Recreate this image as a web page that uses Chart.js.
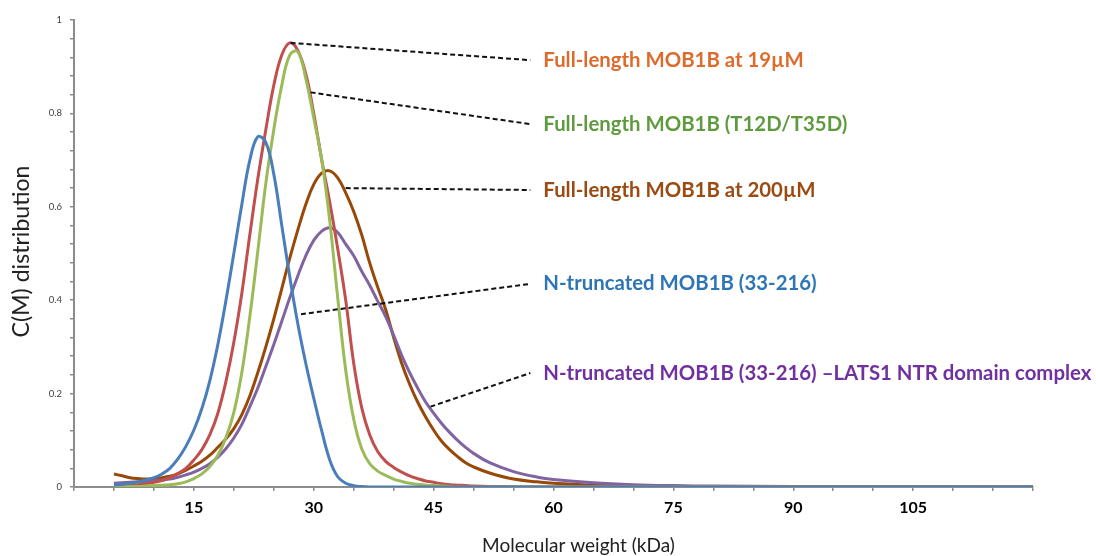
<!DOCTYPE html>
<html>
<head>
<meta charset="utf-8">
<script src="https://cdn.jsdelivr.net/npm/chart.js@4.4.1/dist/chart.umd.min.js"></script>
<style>
  html, body { margin: 0; padding: 0; background: #fff; }
</style>
</head>
<body>
<canvas id="cmChart" width="1096" height="556"></canvas>
<script>
// Molecular weight grid (kDa)
const kDa = [5, 6, 7, 8, 9, 10, 11, 12, 13, 14, 15, 16, 17, 18, 19, 20, 21, 22, 23, 24, 25, 26, 27, 28, 29, 30,
  31, 32, 33, 34, 35, 36, 37, 38, 39, 40, 41, 42, 43, 44, 45, 46, 47, 48, 49, 50, 52, 55, 58, 60, 65, 70, 75, 80, 90, 100, 110, 120];

// C(M) values
const fl19 = [0.002, 0.003, 0.004, 0.005, 0.007, 0.010, 0.014, 0.020, 0.029, 0.040, 0.058, 0.080, 0.112, 0.158, 0.225, 0.310, 0.415, 0.540, 0.660, 0.765, 0.860, 0.925, 0.951, 0.935, 0.885, 0.800,
  0.700, 0.610, 0.510, 0.400, 0.265, 0.170, 0.112, 0.076, 0.055, 0.042, 0.032, 0.024, 0.018, 0.013, 0.010, 0.007, 0.005, 0.004, 0.003, 0.002, 0.001, 0.0005, 0, 0, 0, 0, 0, 0, 0, 0, 0, 0];
const flT12D = [0, 0, 0.001, 0.001, 0.002, 0.003, 0.004, 0.005, 0.007, 0.011, 0.018, 0.028, 0.044, 0.068, 0.105, 0.160, 0.245, 0.365, 0.505, 0.650, 0.765, 0.860, 0.925, 0.932, 0.875, 0.790,
  0.700, 0.570, 0.405, 0.250, 0.145, 0.082, 0.050, 0.034, 0.025, 0.017, 0.012, 0.008, 0.006, 0.004, 0.003, 0.002, 0.001, 0, 0, 0, 0, 0, 0, 0, 0, 0, 0, 0, 0, 0, 0, 0];
const fl200 = [0.028, 0.024, 0.020, 0.018, 0.017, 0.018, 0.020, 0.023, 0.028, 0.036, 0.045, 0.055, 0.068, 0.085, 0.103, 0.125, 0.155, 0.195, 0.245, 0.300, 0.360, 0.425, 0.490, 0.550, 0.605, 0.648,
  0.672, 0.677, 0.662, 0.630, 0.590, 0.540, 0.480, 0.428, 0.380, 0.320, 0.265, 0.220, 0.182, 0.150, 0.122, 0.098, 0.080, 0.065, 0.052, 0.043, 0.030, 0.017, 0.011, 0.008, 0.004, 0.002, 0.0015, 0.001, 0.0005, 0.0003, 0.0002, 0.0001];
const ntrunc = [0.004, 0.006, 0.008, 0.011, 0.015, 0.020, 0.028, 0.040, 0.060, 0.087, 0.122, 0.168, 0.228, 0.305, 0.398, 0.500, 0.605, 0.700, 0.750, 0.738, 0.670, 0.560, 0.450, 0.350, 0.265, 0.190,
  0.120, 0.058, 0.022, 0.008, 0.003, 0.001, 0, 0, 0, 0, 0, 0, 0, 0, 0, 0, 0, 0, 0, 0, 0, 0, 0, 0, 0, 0, 0, 0, 0, 0, 0, 0];
const ntruncLats = [0.008, 0.009, 0.010, 0.011, 0.012, 0.013, 0.015, 0.017, 0.021, 0.026, 0.032, 0.040, 0.050, 0.064, 0.082, 0.105, 0.134, 0.172, 0.212, 0.258, 0.305, 0.355, 0.405, 0.452, 0.495, 0.528,
  0.548, 0.555, 0.545, 0.520, 0.495, 0.462, 0.432, 0.398, 0.365, 0.325, 0.282, 0.245, 0.212, 0.182, 0.158, 0.136, 0.117, 0.100, 0.085, 0.072, 0.052, 0.033, 0.021, 0.016, 0.009, 0.005, 0.003, 0.002, 0.001, 0.0005, 0.0003, 0.0002];

const seriesNames = [
  'Full-length MOB1B at 19\u00b5M',
  'Full-length MOB1B (T12D/T35D)',
  'Full-length MOB1B at 200\u00b5M',
  'N-truncated MOB1B (33-216)',
  'N-truncated MOB1B (33-216) \u2013LATS1 NTR domain complex'
];
const xTickLabels = [15, 30, 45, 60, 75, 90, 105];
const xTitle = 'Molecular weight (kDa)';
const yTitle = 'C(M) distribution';

const toPoints = vals => vals.map((v, i) => ({ x: kDa[i], y: v }));

// leader lines + labels, in data units (kDa, C(M))
const annotations = [
  { text: seriesNames[0], color: '#DD6B2C', from: [27.1, 0.951], to: [57.1, 0.914] },
  { text: seriesNames[1], color: '#5F9B3E', from: [29.6, 0.845], to: [57.1, 0.777] },
  { text: seriesNames[2], color: '#9B4A12', from: [34.0, 0.640], to: [57.1, 0.636] },
  { text: seriesNames[3], color: '#2E75B6', from: [28.4, 0.370], to: [57.1, 0.435] },
  { text: seriesNames[4], color: '#7030A0', from: [44.6, 0.172], to: [57.1, 0.244] }
];

// pick a font size so that a string comes out about as wide as in the original
function fitFont(ctx, text, weight, target) {
  ctx.font = weight + ' 20px Lato';
  const size = 20 * target / ctx.measureText(text).width;
  return weight + ' ' + size.toFixed(2) + 'px Lato';
}

const calloutPlugin = {
  id: 'callouts',
  afterDatasetsDraw(chart) {
    const ctx = chart.ctx;
    const xs = chart.scales.x, ys = chart.scales.y;
    ctx.save();
    ctx.font = fitFont(ctx, seriesNames[4], 'bold', 548);
    ctx.textBaseline = 'middle';
    ctx.textAlign = 'left';
    annotations.forEach(a => {
      const x1 = xs.getPixelForValue(a.from[0]), y1 = ys.getPixelForValue(a.from[1]);
      const x2 = xs.getPixelForValue(a.to[0]), y2 = ys.getPixelForValue(a.to[1]);
      ctx.beginPath();
      ctx.setLineDash([5, 3]);
      ctx.lineWidth = 2;
      ctx.strokeStyle = '#111';
      ctx.moveTo(x1, y1);
      ctx.lineTo(x2, y2);
      ctx.stroke();
      ctx.setLineDash([]);
      ctx.fillStyle = a.color;
      ctx.fillText(a.text, x2 + 13, y2);
    });

    // axis titles
    const area = chart.chartArea;
    ctx.fillStyle = '#222';
    ctx.textAlign = 'center';
    ctx.font = fitFont(ctx, xTitle, 'normal', 193);
    ctx.fillText(xTitle, (area.left + area.right) / 2 + 25, area.bottom + 59);
    ctx.font = fitFont(ctx, yTitle, 'normal', 172);
    ctx.translate(22, (area.top + area.bottom) / 2 - 2);
    ctx.rotate(-Math.PI / 2);
    ctx.fillText(yTitle, 0, 0);
    ctx.restore();
  }
};

const ctx = document.getElementById('cmChart').getContext('2d');
new Chart(ctx, {
  type: 'line',
  data: {
    datasets: [
      { label: seriesNames[3], data: toPoints(ntrunc), borderColor: '#4A7EBB' },
      { label: seriesNames[1], data: toPoints(flT12D), borderColor: '#9BBB59' },
      { label: seriesNames[0], data: toPoints(fl19), borderColor: '#C0504D' },
      { label: seriesNames[4], data: toPoints(ntruncLats), borderColor: '#8064A2' },
      { label: seriesNames[2], data: toPoints(fl200), borderColor: '#984807' }
    ]
  },
  options: {
    responsive: false,
    animation: false,
    layout: { padding: { top: 20, right: 63, left: 0, bottom: 0 } },
    plugins: { legend: { display: false }, tooltip: { enabled: false } },
    elements: {
      point: { radius: 0 },
      line: { borderWidth: 3, tension: 0.4, fill: false }
    },
    scales: {
      x: {
        type: 'linear', min: 0, max: 120,
        border: { color: '#8c8c8c', width: 2 },
        grid: { drawOnChartArea: false, drawTicks: true, tickLength: 4, color: '#8c8c8c', lineWidth: 1.5 },
        ticks: {
          stepSize: 5, autoSkip: false, maxRotation: 0, padding: 7, color: '#000',
          font: { family: 'Lato', weight: 'bold', size: 16 },
          callback: v => xTickLabels.includes(v) ? String(v) : ''
        },
        afterFit: s => { s.height = 69; }
      },
      y: {
        min: 0, max: 1,
        border: { color: '#8c8c8c', width: 2 },
        grid: { drawOnChartArea: false, drawTicks: true, tickLength: 4, color: '#8c8c8c', lineWidth: 1.5 },
        ticks: {
          stepSize: 0.04, autoSkip: false, padding: 8, color: '#404040',
          font: { family: 'Lato', size: 9.5 },
          callback: v => {
            const r = Math.round(v * 5);
            if (Math.abs(v * 5 - r) > 1e-6) return '';
            return r === 0 ? '0' : r === 5 ? '1' : String(r / 5);
          }
        },
        afterFit: s => { s.width = 74; }
      }
    }
  },
  plugins: [calloutPlugin]
});
</script>
</body>
</html>
